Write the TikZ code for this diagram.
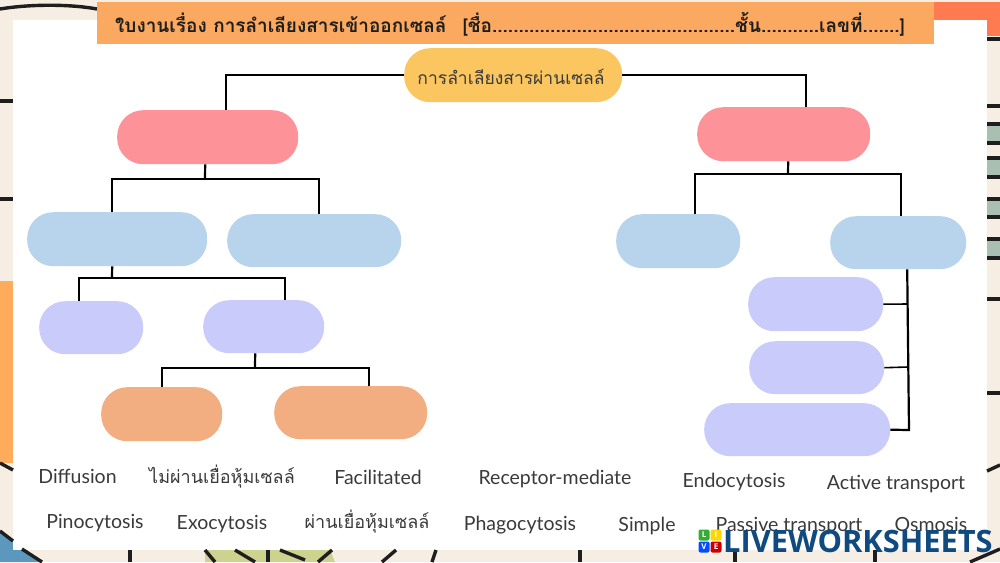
\documentclass[tikz,border=0pt]{standalone}
\usepackage{fontspec}
\newfontfamily\thaifont[Script=Thai]{Loma}
\newfontfamily\latinfont{Lato}
\newfontfamily\markfont{Open Sans}
\definecolor{cream}{HTML}{F6EEE3}
\definecolor{hdr}{HTML}{FBA860}
\definecolor{redor}{HTML}{FE7A50}
\definecolor{sideor}{HTML}{FFAB5C}
\definecolor{rootc}{HTML}{FBC55F}
\definecolor{pinkc}{HTML}{FE9299}
\definecolor{bluec}{HTML}{B8D3EC}
\definecolor{violc}{HTML}{C9CBFB}
\definecolor{orc}{HTML}{F2AE80}
\definecolor{sage}{HTML}{A9BFB2}
\definecolor{ink}{HTML}{1E1E1E}
\definecolor{lab}{HTML}{3A3A3A}
\definecolor{wm}{HTML}{0F4A80}
\definecolor{skyb}{HTML}{5C97BE}
\definecolor{olive}{HTML}{CDD28F}
\tikzset{
  pill/.style={rounded corners=26pt,inner sep=0pt,text width=0pt},
  conn/.style={draw=black,line width=2.2pt},
  deco/.style={draw=ink,line width=3.4pt},
  wordlab/.style={anchor=base,font=\latinfont\fontsize{19.5}{22}\selectfont,text=lab,inner sep=0pt},
  thailab/.style={anchor=base,font=\thaifont\fontsize{18}{22}\selectfont,text=lab,inner sep=0pt},
  tile/.style={minimum size=11pt,inner sep=0pt,rounded corners=2pt,text=white,font=\markfont\bfseries\fontsize{8}{8}\selectfont}
}
\newcommand{\pillnode}[7]{% name, x1, y1, x2, y2, colour, text
  \node[pill,fill=#6,minimum width={#4pt-#2pt},minimum height={#5pt-#3pt},anchor=north west,align=center] (#1) at (#2,#3) {#7};}
\begin{document}
\begin{tikzpicture}[x=1pt,y=-1pt]
\useasboundingbox (0,0) rectangle (1000,562);
% backdrop
\fill[cream] (0,0) rectangle (1000,562);
\fill[sideor] (0,281) rectangle (13,463);
\fill[skyb] (0,532) -- (42,562) -- (0,562) -- cycle;
\fill[olive] (205,550) -- (330,550) -- (335,562) -- (205,562) -- cycle;
\foreach \a/\b in {124/143,158/177,199/217,239/258}
  \fill[sage] (987,\a) rectangle (1000,\b);
\fill[redor] (934,2) rectangle (1000,36);
\fill[white] (13,20) rectangle (987,550);
\draw[deco] (0,9) .. controls (30,4) and (70,4) .. (97,9);
\foreach \y in {101,199} \draw[deco] (0,\y) -- (13,\y);
\foreach \y in {39,106,124,143,158,177,199,217,239,258,299,393} \draw[deco] (987,\y) -- (1000,\y);
\draw[deco] (987,471) -- (1000,465);
\draw[deco] (0,463) -- (13,470);
\draw[deco] (0,531) -- (13,541);
\draw[deco] (22,549) -- (42,562);
\draw[deco] (130,550) -- (130,562);
\draw[deco] (205,550) -- (215,562);
\draw[deco] (235,550) -- (255,562);
\draw[deco] (268,550) -- (268,562);
\draw[deco] (280,550) -- (305,560);
\draw[deco] (332,550) -- (318,562);
\draw[deco] (396,550) -- (382,562);
\draw[deco] (436,550) -- (432,562);
\draw[deco] (580,550) -- (580,562);
\draw[deco] (735,550) -- (735,562);
\draw[deco] (875,550) -- (875,562);
\draw[deco] (970,562) -- (1000,549);
% header
\fill[hdr] (97,2) rectangle (934,44);
\node[anchor=base west,inner sep=0pt,font=\thaifont\bfseries\fontsize{19}{22}\selectfont,text=ink] (head) at (115,32)
  {ใบงานเรื่อง การลำเลียงสารเข้าออกเซลล์\hspace{16pt}[ชื่อ..............................................ชั้น...........เลขที่.......]};
% nodes
\pillnode{root}{404}{48}{622}{102}{rootc}{}
\node[thailab,font=\thaifont\fontsize{17.5}{20}\selectfont] (roottxt) at (511,84) {การลำเลียงสารผ่านเซลล์};
\pillnode{pa}{117}{110}{298}{164}{pinkc}{}
\pillnode{pb}{697}{107}{870}{161}{pinkc}{}
\pillnode{ba}{27}{212}{207}{266}{bluec}{}
\pillnode{bb}{227}{214}{401}{267}{bluec}{}
\pillnode{bc}{616}{214}{740}{268}{bluec}{}
\pillnode{bd}{830}{216}{966}{269}{bluec}{}
\pillnode{va}{39}{301}{143}{354}{violc}{}
\pillnode{vb}{203}{300}{324}{353}{violc}{}
\pillnode{vc}{748}{277}{883}{331}{violc}{}
\pillnode{vd}{749}{341}{884}{394}{violc}{}
\pillnode{ve}{704}{403}{890}{456}{violc}{}
\pillnode{oa}{101}{387}{222}{441}{orc}{}
\pillnode{ob}{274}{386}{427}{439}{orc}{}
% connectors
\draw[conn] (root.west) -| ([xshift=18pt]pa.north);
\draw[conn] (root.east) -| ([xshift=22.5pt]pb.north);
\coordinate (ja) at (205,179);
\draw[conn] ([xshift=-2.5pt]pa.south) -- (ja);
\draw[conn] ([xshift=-5pt]ba.north) |- (ja) -| ([xshift=5pt]bb.north);
\coordinate (jb) at (788,174);
\draw[conn] ([xshift=4.5pt]pb.south) -- (jb);
\draw[conn] ([xshift=17pt]bc.north) |- (jb) -| ([xshift=3pt]bd.north);
\coordinate (jc) at (112,278);
\draw[conn] ([xshift=-5pt]ba.south) -- (jc);
\draw[conn] ([xshift=-12pt]va.north) |- (jc) -| ([xshift=21.5pt]vb.north);
\coordinate (jd) at (255,368);
\draw[conn] ([xshift=-8.5pt]vb.south) -- (jd);
\draw[conn] ([xshift=.5pt]oa.north) |- (jd) -| ([xshift=18pt]ob.north);
\coordinate (je) at (908,304);
\coordinate (jf) at (908,367);
\draw[conn] ([xshift=9pt]bd.south) -- (909,430) -- (ve.east);
\draw[conn,line width=1.6pt] (vc.east) -- (je);
\draw[conn,line width=1.6pt] (vd.east) -- (jf);
% word bank
\node[wordlab] (w1) at (77.5,483) {Diffusion};
\node[thailab] (w2) at (222,483) {ไม่ผ่านเยื่อหุ้มเซลล์};
\node[wordlab] (w3) at (378,484) {Facilitated};
\node[wordlab] (w4) at (555,484) {Receptor-mediate};
\node[wordlab] (w5) at (734,487) {Endocytosis};
\node[wordlab] (w6) at (896,489) {Active transport};
\node[wordlab] (w7) at (95,528) {Pinocytosis};
\node[wordlab] (w8) at (222,529) {Exocytosis};
\node[thailab] (w9) at (367,528) {ผ่านเยื่อหุ้มเซลล์};
\node[wordlab] (w10) at (520,530) {Phagocytosis};
\node[wordlab] (w11) at (647,531) {Simple};
\node[wordlab] (w12) at (789,531) {Passive transport};
\node[wordlab] (w13) at (931,531) {Osmosis};
% watermark
\node[tile,fill=green!60!black!80] (tl) at (704,535) {L};
\node[tile,fill=yellow!75!orange] (ti) at (716,535) {I};
\node[tile,fill=blue!70!cyan] (tv) at (704,547) {V};
\node[tile,fill=red!80!black] (te) at (716,547) {E};
\node[anchor=base west,inner sep=0pt,text=wm,font=\markfont\bfseries\fontsize{30.8}{32}\selectfont] (wmk) at (723,552) {LIVEWORKSHEETS};
\end{tikzpicture}
\end{document}
